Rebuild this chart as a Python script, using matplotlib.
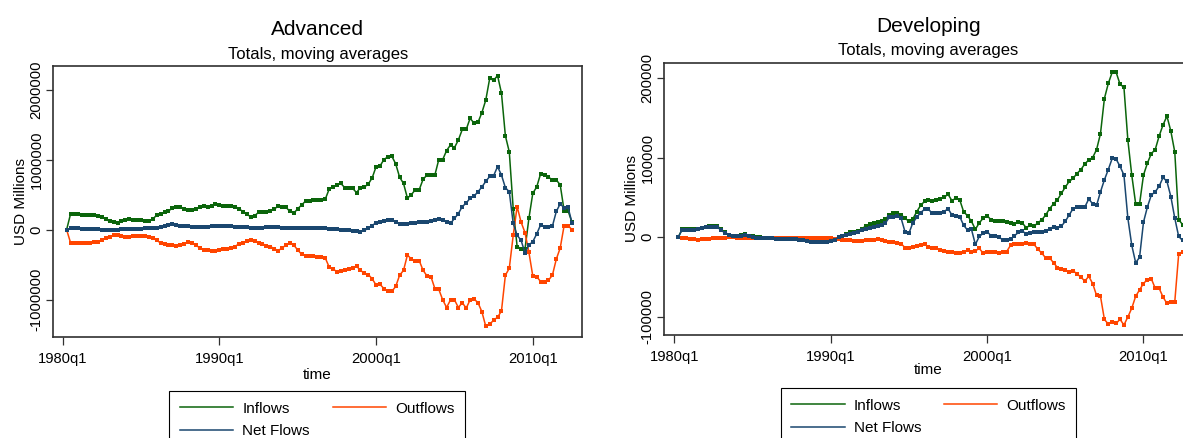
import numpy as np
import pandas as pd
import matplotlib
matplotlib.use("Agg")
import matplotlib.pyplot as plt
from matplotlib.lines import Line2D

plt.rcParams['font.family'] = ['Liberation Sans', 'DejaVu Sans']
plt.rcParams['axes.unicode_minus'] = False

# quarterly time axis, 1980q2 .. 2012q3
quarters = pd.period_range('1980Q2', '2012Q3', freq='Q')
t = np.asarray(quarters.year + (quarters.quarter - 1) / 4.0)

tick_years = [1980, 1990, 2000, 2010]
tick_labels = ['1980q1', '1990q1', '2000q1', '2010q1']

# Advanced economies, thousands of USD millions
adv_in = [0, 224, 222,
          220, 216, 212, 210,   205, 195, 180, 150,   118, 108, 100, 120,
          135, 148, 145, 138,   132, 122, 125, 150,   210, 225, 248, 270,
          305, 318, 324, 300,   282, 286, 290, 320,   342, 330, 345, 366,
          350, 342, 340, 345,   330, 300, 257, 220,   185, 200, 248, 250,
          257, 270, 290, 342,   330, 320, 260, 235,   300, 352, 410, 415,
          420, 430, 430, 432,   576, 610, 640, 660,   600, 595, 590, 530,
          600, 610, 650, 740,   900, 910, 1000, 1040, 1050, 940, 750, 660,
          450, 500, 570, 570,   720, 780, 780, 780,   1000, 1000, 1130, 1210,
          1170, 1280, 1430, 1430, 1590, 1520, 1530, 1670, 1850, 2160, 2130, 2200,
          1950, 1340, 1110, 300, -240, -270, -280, 160, 520, 610, 800, 780,
          750, 710, 710, 640,
          270, 270, 105]

adv_out = [0, -185, -185,
           -190, -192, -188, -185, -180, -170, -150, -120, -100, -80, -76, -90,
           -100, -100, -95, -95,   -90, -92, -100, -120,  -150, -190, -210, -220,
           -225, -232, -220, -200, -180, -190, -220, -260, -285, -290, -300, -310,
           -290, -280, -270, -260, -240, -200, -190, -160, -140, -160, -190, -200,
           -230, -240, -270, -300, -260, -220, -190, -220, -290, -350, -370, -380,
           -380, -385, -390, -400, -530, -560, -600, -590, -580, -560, -540, -520,
           -580, -620, -640, -700, -790, -780, -840, -880, -880, -810, -650, -580,
           -360, -420, -440, -440, -580, -660, -670, -840, -850, -1000, -1110, -1000,
           -1000, -1110, -1040, -1120, -1000, -990, -1040, -1170, -1380, -1350, -1290, -1250,
           -1160, -650, -550, -80,  330, 110, -40, -320,  -660, -670, -740, -750,
           -720, -650, -420, -260,
           60, 60, 0]

adv_net = [0, 20, 20,
           18, 15, 12, 10,   8, 5, 3, 2,   0, 0, 3, 5,
           8, 10, 12, 12,   15, 18, 18, 20,   25, 35, 50, 65,
           75, 72, 60, 55,   50, 45, 42, 40,   42, 45, 50, 55,
           58, 55, 52, 50,   45, 40, 35, 35,   30, 25, 25, 30,
           35, 38, 40, 35,   30, 25, 22, 25,   30, 28, 25, 20,
           20, 22, 25, 20,   15, 10, 5, 0,   -5, -10, -15, -25,
           -30, -10, 20, 60,   100, 110, 120, 135,   140, 110, 85, 80,
           80, 90, 100, 105,   110, 110, 130, 140,   150, 140, 110, 90,
           160, 230, 330, 380,   450, 480, 540, 610,   690, 760, 770, 900,
           780, 600, 540, 90,   -80, -150, -330, -220,   -170, -60, 70, 40,
           45, 50, 260, 370,
           310, 320, 100]

# Developing economies, thousands of USD millions
dev_in = [0, 10, 10,
          10, 10, 11, 12,   13, 14, 14.5, 14,   10, 6, 3, 2,
          2, 2.5, 3.5, 2,   1, 0, 0, -0.5,   -1, -1, -1.5, -1.5,
          -1.5, -1, -1.5, -2,   -2, -2.5, -3, -4,   -5, -5.5, -5, -4.5,
          -4, -3, -1, 2,   4, 6, 6.5, 8,   11, 14, 17, 18,
          19, 21, 23, 28,   30, 31, 28, 24,   20, 23, 32, 40,
          45, 47, 45, 47,   48, 50, 54, 46,   49, 47, 32, 27,
          20, 10, 18, 24,   27, 22, 21, 20,   20, 19, 18, 17,
          19, 18, 12, 15,   14, 18, 22, 28,   36, 42, 47, 55,
          63, 70, 74, 80,   85, 92, 97, 100,   110, 130, 174, 193,
          207, 207, 192, 188,   122, 78, 42, 42,   78, 93, 105, 110,
          127, 141, 152, 133,
          107, 22, 16]

dev_out = [0, -1.5, -1.5,
           -2, -2.5, -3, -2.5,   -2, -2, -1.5, -1.5,   -1, -0.5, 0, 0,
           -0.5, -1, -1.5, -1,   -0.5, -0.5, -0.5, -0.5,   -0.5, -0.5, -0.5, -0.5,
           -0.5, -0.5, -0.5, -0.5,   -0.5, -0.5, -1, -1,   -1, -1.5, -1.5, -1.5,
           -1.5, -2, -2.5, -3,   -4, -4, -5, -5,   -5, -4, -3, -3,
           -2.5, -4, -5, -6,   -6, -7, -8, -13,   -13, -12, -11, -10,
           -9, -12, -14, -14,   -16, -17, -18, -19,   -20, -20, -19, -16,
           -18, -17, -14, -20,   -19, -18, -18, -20,   -19, -18, -10, -9,
           -9, -8, -7.5, -8,   -9, -15, -20, -26,   -26, -32, -38, -40,
           -41, -44, -42, -46,   -50, -55, -49, -58,   -73, -74, -103, -109,
           -106, -108, -103, -110,   -100, -89, -74, -66,   -58, -53, -52, -64,
           -64, -75, -83, -81,
           -81, -21, -18]

dev_net = [0, 9.5, 9.5,
           9.5, 9.5, 10.5, 12,   12.5, 13, 13, 12.5,   9, 5, 3, 1.5,
           1.5, 2, 2.5, 1.5,   0.5, -0.5, -0.5, -1,   -1.5, -1.5, -2, -2,
           -2, -2, -2.5, -2.5,   -3, -3.5, -4.5, -5.5,   -6, -6.5, -6, -5.5,
           -5, -3, 0, 2,   3, 4.5, 5.5, 6.5,   9, 10, 12, 13.5,
           14, 16, 18, 25,   26, 27, 24, 7,   5, 18, 25, 31,
           35, 35, 30, 30,   31, 32, 36, 28,   27, 26, 15, 9,
           10, -9, 1, 5,   7, 2, 1, 0,   -3, -3, -2.5, 2,
           6, 8, 4, 5,   6, 6.5, 7, 7.5,   11, 13, 12, 14,
           20, 28, 36, 38,   38, 38, 48, 42,   40, 57, 72, 85,
           99, 98, 89, 78,   24, -10, -32, -25,   19, 38, 53, 57,
           64, 75, 70, 51,
           24, 1, -4]

adv_yticks = [-1000000, 0, 1000000, 2000000]
dev_yticks = [-100000, 0, 100000, 200000]

C_IN = '#0b650b'
C_OUT = '#ff4500'
C_NET = '#1a476f'
FRAME = '#303030'

W, H = 1183, 438
fig = plt.figure(figsize=(W / 100, H / 100), dpi=100)
fig.patch.set_facecolor('white')


def draw_panel(rect, inflows, outflows, net, yticks, ylim, xlim, xlab_y):
    ax = fig.add_axes(rect)
    for vals, col in ((inflows, C_IN), (outflows, C_OUT), (net, C_NET)):
        ax.plot(t, np.array(vals) * 1000, color=col, lw=1.1,
                marker='s', ms=2.2, mew=0, mfc=col)
    ax.set_xlim(*xlim)
    ax.set_ylim(*ylim)
    ax.set_xticks(tick_years, tick_labels, fontsize=10.6)
    ax.set_yticks(yticks, [str(v) for v in yticks], fontsize=10.6,
                  rotation=90, va='center')
    ax.tick_params(axis='x', direction='out', length=5.5, width=0.9,
                   color=FRAME, pad=5.0)
    ax.tick_params(axis='y', direction='out', length=5.0, width=0.9,
                   color=FRAME, pad=2.0)
    for sp in ax.spines.values():
        sp.set_color(FRAME)
        sp.set_linewidth(1.2)
    ax.set_xlabel('time', fontsize=11)
    ax.xaxis.set_label_coords(0.5, xlab_y)
    ax.set_ylabel('USD Millions', fontsize=11, va='center')
    ax.yaxis.set_label_coords(-0.062, 0.5)
    return ax


def add_titles(xc_px, title_base, sub_base, title, sub):
    fig.text(xc_px / W, 1 - title_base / H, title, ha='center',
             va='baseline', fontsize=15)
    fig.text(xc_px / W, 1 - sub_base / H, sub, ha='center',
             va='baseline', fontsize=12)


def add_legend(xc_px, top_px):
    handles = [Line2D([], [], color=C_IN, lw=1.1),
               Line2D([], [], color=C_NET, lw=1.1),
               Line2D([], [], color=C_OUT, lw=1.1)]
    leg = fig.legend(handles, ['Inflows', 'Net Flows', 'Outflows'],
                     loc='upper center', bbox_to_anchor=(xc_px / W, 1 - top_px / H),
                     ncol=2, fontsize=11, frameon=True, fancybox=False,
                     framealpha=1, edgecolor='black', borderaxespad=0,
                     borderpad=0.7, handlelength=3.5, handletextpad=0.59,
                     columnspacing=1.48, labelspacing=0.56)
    leg.get_frame().set_linewidth(0.8)


# left panel: Advanced
draw_panel([53.3 / W, 1 - 337.3 / H, (582 - 53.3) / W, (337.3 - 65.7) / H],
           adv_in, adv_out, adv_net, adv_yticks,
           (-1.535e6, 2.34e6), (1979.40, 2013.14), -0.112)
add_titles(317.7, 35, 59.3, 'Advanced', 'Totals, moving averages')
add_legend(317.2, 391)

# right panel: Developing (runs past the right edge of the picture)
draw_panel([664.3 / W, 1 - 335 / H, (1192.6 - 664.3) / W, (335 - 62.7) / H],
           dev_in, dev_out, dev_net, dev_yticks,
           (-1.226e5, 2.19e5), (1979.36, 2013.14), -0.102)
add_titles(928.5, 31.7, 55, 'Developing', 'Totals, moving averages')
add_legend(928.5, 388)

fig.savefig('out.png', dpi=100, facecolor='white')
